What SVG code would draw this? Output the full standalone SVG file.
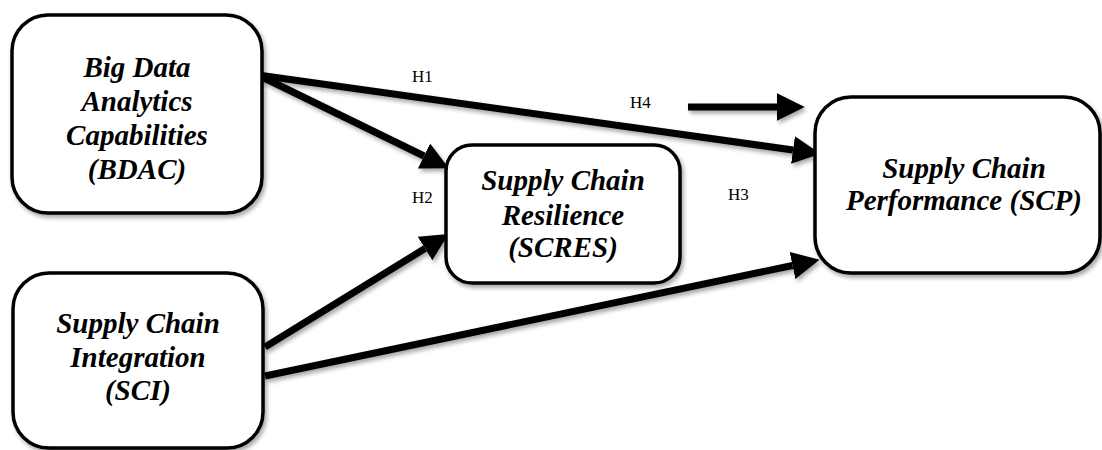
<svg xmlns="http://www.w3.org/2000/svg" width="1102" height="450" viewBox="0 0 1102 450">
<style>
.box{fill:#fff;stroke:#000;stroke-width:3.5}
.t{font-weight:bold;font-style:italic;font-size:29px;text-anchor:middle;fill:#000}
.lbl{font-size:17px;fill:#000}
.c{stroke:#000;stroke-width:7;fill:none}
</style>
<defs>
<marker id="ah" markerUnits="userSpaceOnUse" markerWidth="30" markerHeight="30" viewBox="0 -13 26 26" refX="0" refY="0" orient="auto">
<path d="M0,-12 L24,0 L0,12 Z" fill="#000"/>
</marker>
<filter id="sh" x="-10%" y="-10%" width="130%" height="140%">
<feDropShadow dx="2" dy="3" stdDeviation="2" flood-color="#000" flood-opacity="0.35"/>
</filter>
</defs>
<g id="connectors" filter="url(#sh)">
<line class="c" x1="258" y1="75" x2="793" y2="150" marker-end="url(#ah)"/>
<line class="c" x1="258" y1="75" x2="424" y2="156" marker-end="url(#ah)"/>
<line class="c" x1="265" y1="347" x2="425" y2="248.5" marker-end="url(#ah)"/>
<line class="c" x1="265" y1="376" x2="792.5" y2="265.5" marker-end="url(#ah)"/>
<line class="c" x1="688" y1="107" x2="777" y2="107" marker-end="url(#ah)"/>
</g>
<g id="labels" font-family="Liberation Serif, serif">
<text class="lbl" x="412" y="82">H1</text>
<text class="lbl" x="412" y="203">H2</text>
<text class="lbl" x="728" y="200">H3</text>
<text class="lbl" x="630" y="108">H4</text>
</g>
<g id="bdac" font-family="Liberation Serif, serif">
<rect class="box" x="12" y="15" width="250" height="198" rx="36" filter="url(#sh)"/>
<text class="t" x="137" y="77">Big Data</text>
<text class="t" x="137" y="111">Analytics</text>
<text class="t" x="137" y="145">Capabilities</text>
<text class="t" x="137" y="179">(BDAC)</text>
</g>
<g id="sci" font-family="Liberation Serif, serif">
<rect class="box" x="13" y="273" width="250" height="175" rx="36" filter="url(#sh)"/>
<text class="t" x="138" y="333">Supply Chain</text>
<text class="t" x="138" y="367">Integration</text>
<text class="t" x="138" y="400">(SCI)</text>
</g>
<g id="scres" font-family="Liberation Serif, serif">
<rect class="box" x="446" y="145" width="234" height="138" rx="26" filter="url(#sh)"/>
<text class="t" x="563" y="190">Supply Chain</text>
<text class="t" x="563" y="225">Resilience</text>
<text class="t" x="563" y="257">(SCRES)</text>
</g>
<g id="scp" font-family="Liberation Serif, serif">
<rect class="box" x="815" y="97" width="285" height="176" rx="36" filter="url(#sh)"/>
<text class="t" x="964" y="178">Supply Chain</text>
<text class="t" x="964" y="210">Performance (SCP)</text>
</g>
</svg>
